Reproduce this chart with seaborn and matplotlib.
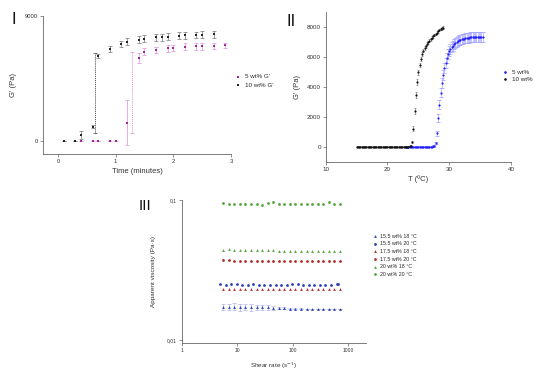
import numpy as np
import pandas as pd
import matplotlib
matplotlib.use("Agg")
import matplotlib.pyplot as plt
import seaborn as sns
from matplotlib.ticker import FixedLocator, FixedFormatter, NullLocator

# ---------------- Panel I data ----------------
t10 = [0.1, 0.3, 0.4, 0.6, 0.7, 0.9, 1.1, 1.2, 1.4, 1.5, 1.7, 1.8, 1.9, 2.1, 2.2, 2.4, 2.5, 2.7]
g10 = [0, 0, 430, 1030, 6140, 6620, 6980, 7150, 7300, 7370, 7460, 7470, 7510, 7580, 7610, 7630, 7650, 7680]
e10 = [0, 0, 260, 120, 150, 220, 240, 240, 250, 250, 250, 240, 250, 240, 250, 250, 260, 260]
t5 = [0.4, 0.6, 0.7, 0.9, 1.0, 1.2, 1.4, 1.5, 1.7, 1.9, 2.0, 2.2, 2.4, 2.5, 2.7, 2.9]
g5 = [0, 0, 0, 0, 0, 1320, 5950, 6430, 6550, 6670, 6720, 6790, 6810, 6810, 6840, 6890]
e5 = [0, 0, 0, 0, 0, 1620, 360, 260, 240, 240, 220, 240, 240, 230, 220, 200]
gel_t = [0.65, 1.29]
gel_low = [550, 550]
gel_high = [6310, 6430]

# ---------------- Panel II data ----------------
T10 = [15.0, 15.2, 15.4, 15.6, 15.8, 16.0, 16.2, 16.4, 16.6, 16.8,
       17.0, 17.2, 17.4, 17.6, 17.8, 18.0, 18.2, 18.4, 18.6, 18.8,
       19.0, 19.2, 19.4, 19.6, 19.8, 20.0, 20.2, 20.4, 20.6, 20.8,
       21.0, 21.2, 21.4, 21.6, 21.8, 22.0, 22.2, 22.4, 22.6, 22.8,
       23.0, 23.2, 23.4, 23.6, 23.8, 24.0, 24.2, 24.4, 24.6, 24.8,
       25.0, 25.2, 25.4, 25.6, 25.8, 26.0, 26.2, 26.4, 26.6, 26.8,
       27.0, 27.2, 27.4, 27.6, 27.8, 28.0, 28.2, 28.4, 28.6, 28.8, 29.0]
G10 = [5, 3, 4, 6, 2, 5, 4, 3, 5, 6,
       4, 3, 5, 4, 6, 3, 5, 4, 2, 5,
       6, 3, 4, 5, 3, 4, 6, 5, 3, 4,
       5, 6, 4, 3, 5, 4, 6, 5, 3, 4,
       6, 8, 10, 15, 40, 330, 1200, 2350, 3450, 4300,
       4950, 5450, 5850, 6150, 6400, 6580, 6700, 6850, 6960, 7060,
       7160, 7260, 7360, 7450, 7530, 7610, 7690, 7760, 7830, 7890, 7940]
E10 = [20, 20, 20, 20, 20, 20, 20, 20, 20, 20,
       20, 20, 20, 20, 20, 20, 20, 20, 20, 20,
       20, 20, 20, 20, 20, 20, 20, 20, 20, 20,
       20, 20, 20, 20, 20, 20, 20, 20, 20, 20,
       20, 20, 20, 30, 40, 80, 160, 200, 200, 200,
       180, 160, 150, 130, 120, 110, 100, 100, 100, 90,
       90, 90, 90, 80, 80, 80, 80, 80, 80, 80, 80]
T5 = [23.0, 23.2, 23.4, 23.6, 23.8, 24.0, 24.2, 24.4, 24.6, 24.8,
      25.0, 25.2, 25.4, 25.6, 25.8, 26.0, 26.2, 26.4, 26.6, 26.8,
      27.0, 27.2, 27.4, 27.6, 27.8, 28.0, 28.2, 28.4, 28.6, 28.8,
      29.0, 29.2, 29.4, 29.6, 29.8, 30.0, 30.2, 30.4, 30.6, 30.8,
      31.0, 31.2, 31.4, 31.6, 31.8, 32.0, 32.2, 32.4, 32.6, 32.8,
      33.0, 33.2, 33.4, 33.6, 33.8, 34.0, 34.2, 34.4, 34.6, 34.8,
      35.0, 35.2, 35.4]
G5 = [5, 4, 6, 3, 5, 4, 6, 5, 3, 4,
      5, 6, 4, 3, 5, 4, 6, 5, 4, 3,
      5, 8, 15, 40, 250, 900, 1900, 2800, 3600, 4250,
      4800, 5250, 5600, 5900, 6150, 6350, 6500, 6630, 6740, 6830,
      6910, 6980, 7040, 7090, 7130, 7160, 7190, 7210, 7230, 7250,
      7265, 7275, 7285, 7295, 7300, 7305, 7310, 7315, 7318, 7320,
      7322, 7325, 7325]
E5 = [20, 20, 20, 20, 20, 20, 20, 20, 20, 20,
      20, 20, 20, 20, 20, 20, 20, 20, 20, 20,
      20, 20, 30, 40, 80, 160, 250, 300, 320, 330,
      330, 330, 330, 330, 330, 330, 330, 330, 330, 330,
      330, 330, 330, 330, 330, 330, 330, 330, 330, 330,
      330, 330, 330, 330, 330, 330, 330, 330, 330, 330,
      330, 330, 330]

# ---------------- Panel III data ----------------
shear = [5.6, 7.1, 8.9, 11.2, 14.1, 17.8, 22.4, 28.2, 35.5, 44.7, 56.2,
         70.8, 89.1, 112, 141, 178, 224, 282, 355, 447, 562, 708]
shear_b20 = [4.9, 6.2, 7.8, 9.8, 12.3, 15.5, 19.5, 24.5, 30.9, 38.9, 49.0, 61.7,
             77.6, 97.7, 123, 155, 195, 245, 309, 389, 490, 617, 660]
v155_18 = [0.0173, 0.0172, 0.0173, 0.0172, 0.0172, 0.0171, 0.0171, 0.0171, 0.0171, 0.0170, 0.0169,
           0.0168, 0.0167, 0.0167, 0.0167, 0.0166, 0.0166, 0.0166, 0.0166, 0.0166, 0.0166, 0.0166]
e155_18 = [0.0009, 0.0009, 0.0010, 0.0010, 0.0009, 0.0009, 0.0008, 0.0008, 0.0008, 0.0006, 0.0004,
           0.0003, 0.0002, 0.0002, 0.0001, 0.0001, 0.0001, 0.0001, 0.0001, 0.0001, 0.0001, 0.0001]
v155_20 = [0.0250, 0.0248, 0.0250, 0.0249, 0.0248, 0.0248, 0.0249, 0.0248, 0.0248, 0.0248, 0.0248, 0.0248,
           0.0246, 0.0250, 0.0249, 0.0248, 0.0248, 0.0248, 0.0248, 0.0248, 0.0248, 0.0249, 0.0250]
v175_18 = [0.0230, 0.0233, 0.0231, 0.0231, 0.0231, 0.0230, 0.0231, 0.0231, 0.0230, 0.0231, 0.0231,
           0.0230, 0.0231, 0.0231, 0.0231, 0.0230, 0.0230, 0.0231, 0.0231, 0.0230, 0.0230, 0.0231]
v175_20 = [0.0370, 0.0372, 0.0365, 0.0368, 0.0368, 0.0364, 0.0366, 0.0368, 0.0366, 0.0365, 0.0366,
           0.0367, 0.0368, 0.0364, 0.0364, 0.0364, 0.0366, 0.0364, 0.0365, 0.0365, 0.0366, 0.0366]
v20_18 = [0.0440, 0.0445, 0.0440, 0.0438, 0.0438, 0.0437, 0.0437, 0.0437, 0.0440, 0.0438, 0.0435,
          0.0435, 0.0434, 0.0434, 0.0433, 0.0433, 0.0432, 0.0432, 0.0430, 0.0432, 0.0432, 0.0432]
v20_20 = [0.095, 0.093, 0.093, 0.093, 0.094, 0.094, 0.094, 0.092, 0.095, 0.096, 0.093,
          0.093, 0.093, 0.093, 0.093, 0.093, 0.093, 0.093, 0.093, 0.096, 0.094, 0.093]
legend3 = ["15.5 wt% 18 °C", "15.5 wt% 20 °C", "17.5 wt% 18 °C",
           "17.5 wt% 20 °C", "20 wt% 18 °C", "20 wt% 20 °C"]

# ---------------- style ----------------
sns.set_theme(style="ticks")
plt.rcParams['font.family'] = ['Liberation Sans', 'DejaVu Sans']
plt.rcParams.update({
    'axes.edgecolor': '#666666', 'axes.linewidth': 0.6,
    'xtick.color': '#666666', 'ytick.color': '#666666',
    'xtick.labelcolor': '#333333', 'ytick.labelcolor': '#333333',
    'xtick.major.width': 0.5, 'ytick.major.width': 0.5,
    'xtick.major.size': 2, 'ytick.major.size': 2,
    'xtick.major.pad': 1.5, 'ytick.major.pad': 1.5,
    'axes.labelcolor': '#333333',
})

W, H = 550, 372
fig = plt.figure(figsize=(W / 100, H / 100), dpi=100)


def rect(x0, x1, y_top, y_bot):
    return [x0 / W, 1 - y_bot / H, (x1 - x0) / W, (y_bot - y_top) / H]


# ---------------- Panel I ----------------
ax1 = fig.add_axes(rect(43, 231, 16, 154))
mag, mag_e = '#a3249e', '#e2a2df'
blk, blk_e = '#222222', '#8a8a8a'
for i, c in enumerate(['#444444', '#dc90d8']):
    eb = ax1.errorbar([gel_t[i]], [gel_high[i]],
                      yerr=[[gel_high[i] - gel_low[i]], [0]],
                      fmt='none', ecolor=c, elinewidth=0.7, capsize=1.5, capthick=0.5)
    eb[2][0].set_linestyle((0, (1, 1)))
ax1.errorbar(t5, g5, yerr=e5, fmt='none', ecolor=mag_e, elinewidth=0.6, capsize=1.5, capthick=0.6)
ax1.errorbar(t10, g10, yerr=e10, fmt='none', ecolor=blk_e, elinewidth=0.6, capsize=1.5, capthick=0.6)
sns.scatterplot(x=t5, y=g5, ax=ax1, color=mag, marker='s', s=4, linewidth=0, label="5 wt% G'", zorder=4)
sns.scatterplot(x=t10, y=g10, ax=ax1, color=blk, marker='s', s=4, linewidth=0, label="10 wt% G'", zorder=4)
ax1.set_xlim(-0.26, 3)
ax1.set_ylim(-940, 9000)
ax1.set_xticks([0, 1, 2, 3])
ax1.set_yticks([0, 9000])
ax1.tick_params(labelsize=4.2)
sns.despine(ax=ax1)
ax1.set_xlabel("Time (minutes)", fontsize=5.5, labelpad=3)
ax1.set_ylabel("G' (Pa)", fontsize=5.5, labelpad=6)
ax1.legend(loc='center left', bbox_to_anchor=(236 / W, 1 - 81 / H), bbox_transform=fig.transFigure,
           frameon=False, fontsize=4.5, handlelength=0.6, handletextpad=0.8, labelspacing=0.5,
           borderpad=0, borderaxespad=0, markerscale=0.9)
fig.text(14 / W, 1 - 19 / H, "I", fontsize=12, ha='center', va='center', color='#111111')

# ---------------- Panel II ----------------
ax2 = fig.add_axes(rect(325.7, 511, 11.7, 161.7))
blue, blue_e = '#1f1fff', '#a8a8ff'
ax2.errorbar(T5, G5, yerr=E5, fmt='none', ecolor=blue_e, elinewidth=0.5, capsize=1.6, capthick=0.6)
ax2.errorbar(T10, G10, yerr=E10, fmt='none', ecolor='#666666', elinewidth=0.4, capsize=0.8, capthick=0.4)
sns.scatterplot(x=T5, y=G5, ax=ax2, color=blue, marker='o', s=2.5, linewidth=0, label="5 wt%", zorder=4)
sns.scatterplot(x=T10, y=G10, ax=ax2, color='#111111', marker='o', s=2.5, linewidth=0, label="10 wt%", zorder=5)
ax2.set_xlim(10, 40)
ax2.set_ylim(-1000, 9000)
ax2.set_xticks([10, 20, 30, 40])
ax2.set_yticks([0, 2000, 4000, 6000, 8000])
ax2.tick_params(labelsize=4.5)
sns.despine(ax=ax2)
ax2.set_xlabel("T (ºC)", fontsize=5.5, labelpad=3)
ax2.set_ylabel("G' (Pa)", fontsize=5.5, labelpad=4)
ax2.legend(loc='center left', bbox_to_anchor=(503 / W, 1 - 75.5 / H), bbox_transform=fig.transFigure,
           frameon=False, fontsize=4.5, handlelength=0.6, handletextpad=0.8, labelspacing=0.3,
           borderpad=0, borderaxespad=0, markerscale=1.2)
fig.text(291.5 / W, 1 - 22 / H, "II", fontsize=12, ha='center', va='center', color='#111111')

# ---------------- Panel III ----------------
ax3 = fig.add_axes(rect(181.7, 366, 200, 342.7))
b3, r3, g3 = '#2b3fb0', '#b02a2a', '#4fa337'
ax3.errorbar(shear, v155_18, yerr=e155_18, fmt='none', ecolor='#a9b4ea', elinewidth=0.5,
             capsize=1.2, capthick=0.5)
series3 = [
    (shear, v155_18, b3, '^'),
    (shear_b20, v155_20, b3, 'o'),
    (shear, v175_18, r3, '^'),
    (shear, v175_20, r3, 'o'),
    (shear, v20_18, g3, '^'),
    (shear, v20_20, g3, 'o'),
]
for (xs, ys, c, m), lab in zip(series3, legend3):
    sns.scatterplot(x=xs, y=ys, ax=ax3, color=c, marker=m, s=4, linewidth=0, label=lab, zorder=4)
ax3.set_xscale('log')
ax3.set_yscale('log')
ax3.set_xlim(1, 10 ** 3.32)
ax3.set_ylim(10 ** -2.02, 0.1)
ax3.xaxis.set_major_locator(FixedLocator([1, 10, 100, 1000]))
ax3.xaxis.set_major_formatter(FixedFormatter(["1", "10", "100", "1000"]))
ax3.xaxis.set_minor_locator(NullLocator())
ax3.yaxis.set_major_locator(FixedLocator([0.01, 0.1]))
ax3.yaxis.set_major_formatter(FixedFormatter(["0,01", "0,1"]))
ax3.yaxis.set_minor_locator(NullLocator())
ax3.tick_params(labelsize=3.6)
sns.despine(ax=ax3)
ax3.set_xlabel("Shear rate (s$^{-1}$)", fontsize=4.6, labelpad=6)
ax3.set_ylabel("Apparent viscosity (Pa·s)", fontsize=4.6, labelpad=8)
ax3.legend(loc='center left', bbox_to_anchor=(373 / W, 1 - 255.2 / H), bbox_transform=fig.transFigure,
           frameon=False, fontsize=3.8, handlelength=0.6, handletextpad=0.7, labelspacing=0.5,
           borderpad=0, borderaxespad=0, markerscale=1.0)
fig.text(145 / W, 1 - 206 / H, "III", fontsize=11, ha='center', va='center', color='#111111')

fig.savefig("out.png", dpi=100)
